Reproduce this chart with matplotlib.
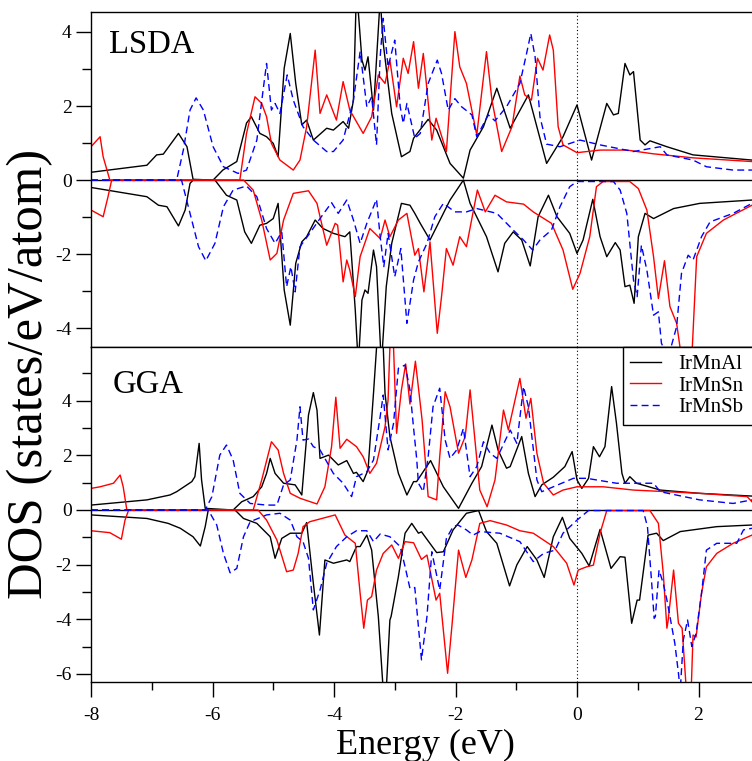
import matplotlib
matplotlib.use("Agg")
import matplotlib.pyplot as plt
from matplotlib.ticker import MultipleLocator

plt.rcParams["font.family"] = ["Liberation Serif", "DejaVu Serif"]
plt.rcParams["axes.unicode_minus"] = False

# (energy eV, DOS states/eV/atom) pairs, spin up > 0, spin down < 0

# ---- LSDA ----
lsda_al_up = [(-8.0, 0.21), (-7.08, 0.40), (-6.92, 0.68), (-6.81, 0.70), (-6.56, 1.26),
              (-6.42, 0.90), (-6.32, 0.02), (-5.99, 0.0), (-5.83, 0.27), (-5.6, 0.5),
              (-5.44, 1.54), (-5.36, 1.71), (-5.22, 1.26), (-5.11, 1.17), (-5.0, 0.99),
              (-4.92, 0.63), (-4.82, 3.02), (-4.72, 3.96), (-4.63, 2.61), (-4.53, 1.49),
              (-4.45, 1.62), (-4.34, 1.08), (-4.12, 1.4), (-4.01, 1.35), (-3.85, 1.58),
              (-3.76, 1.4), (-3.68, 2.16), (-3.63, 5.2), (-3.54, 3.24), (-3.49, 2.97),
              (-3.44, 3.33), (-3.35, 1.89), (-3.24, 4.9), (-3.19, 3.7), (-3.05, 1.8),
              (-2.89, 0.63), (-2.75, 0.77), (-2.69, 1.13), (-2.45, 1.64), (-2.31, 1.35),
              (-2.09, 0.45), (-1.87, 0.05), (-1.76, 0.81), (-1.54, 1.44), (-1.32, 2.48),
              (-1.1, 1.4), (-0.8, 2.3), (-0.5, 0.45), (-0.23, 1.17), (0.0, 2.03),
              (0.24, 0.54), (0.49, 2.07), (0.6, 1.76), (0.68, 1.8), (0.79, 3.15),
              (0.87, 2.84), (0.93, 2.93), (1.04, 1.08), (1.12, 0.95), (1.2, 1.06),
              (1.48, 0.9), (1.91, 0.68), (2.88, 0.54)]
lsda_sn_up = [(-8.0, 0.9), (-7.85, 1.17), (-7.8, 0.63), (-7.69, 0.0), (-5.55, 0.0),
              (-5.44, 1.26), (-5.3, 2.25), (-5.19, 2.07), (-5.11, 1.71), (-5.03, 0.99),
              (-4.89, 0.54), (-4.67, 0.27), (-4.56, 0.54), (-4.45, 1.44), (-4.31, 3.51),
              (-4.23, 1.8), (-4.12, 2.3), (-3.96, 1.62), (-3.85, 2.66), (-3.74, 1.89),
              (-3.52, 1.26), (-3.38, 1.71), (-3.27, 2.84), (-3.16, 2.61), (-3.08, 3.24),
              (-2.97, 1.98), (-2.86, 3.29), (-2.78, 2.88), (-2.69, 3.74), (-2.61, 2.48),
              (-2.53, 3.42), (-2.48, 2.61), (-2.39, 1.08), (-2.32, 1.67), (-2.15, 0.77),
              (-2.01, 4.01), (-1.93, 3.06), (-1.82, 2.61), (-1.65, 1.22), (-1.49, 3.47),
              (-1.4, 2.16), (-1.24, 0.77), (-1.07, 1.44), (-0.94, 2.81), (-0.86, 2.3),
              (-0.75, 2.16), (-0.65, 3.29), (-0.56, 2.97), (-0.45, 3.92), (-0.39, 3.51),
              (-0.31, 1.44), (-0.23, 0.95), (0.0, 0.74), (0.38, 0.81), (0.82, 0.81),
              (1.25, 0.71), (1.91, 0.6), (2.88, 0.5)]
lsda_sb_up = [(-8.0, 0.0), (-6.59, 0.0), (-6.48, 0.81), (-6.37, 1.89), (-6.27, 2.22),
              (-6.15, 1.89), (-5.99, 0.9), (-5.82, 0.36), (-5.58, 0.18), (-5.44, 0.27),
              (-5.27, 1.08), (-5.16, 2.52), (-5.11, 3.15), (-5.03, 1.89), (-4.97, 2.07),
              (-4.89, 1.8), (-4.77, 2.84), (-4.67, 2.16), (-4.51, 1.44), (-4.34, 1.08),
              (-4.12, 0.77), (-4.01, 0.77), (-3.85, 1.08), (-3.68, 2.16), (-3.57, 3.47),
              (-3.46, 1.98), (-3.38, 2.25), (-3.3, 0.95), (-3.24, 3.33), (-3.19, 4.37),
              (-3.11, 3.06), (-3.0, 3.78), (-2.91, 1.98), (-2.86, 1.53), (-2.8, 2.07),
              (-2.67, 1.13), (-2.58, 1.26), (-2.45, 2.61), (-2.3, 3.24), (-2.23, 2.88),
              (-2.12, 1.89), (-2.01, 2.2), (-1.9, 1.98), (-1.73, 1.76), (-1.65, 1.17),
              (-1.46, 1.76), (-1.35, 1.6), (-1.16, 1.98), (-0.94, 2.61), (-0.83, 3.42),
              (-0.76, 3.96), (-0.69, 3.33), (-0.61, 1.71), (-0.5, 0.97), (-0.28, 0.9),
              (0.05, 1.08), (0.38, 0.95), (0.93, 0.77), (1.37, 0.9), (1.48, 0.68),
              (1.91, 0.54), (2.13, 0.36), (2.57, 0.27), (2.88, 0.27)]
lsda_al_dn = [(-8.0, -0.2), (-7.08, -0.45), (-6.89, -0.68), (-6.75, -0.72), (-6.56, -1.24),
              (-6.45, -0.81), (-6.37, -0.09), (-6.32, 0.0), (-5.96, 0.0), (-5.77, -0.41),
              (-5.6, -0.54), (-5.47, -1.4), (-5.36, -1.71), (-5.22, -1.22), (-5.11, -1.17),
              (-5.0, -1.04), (-4.92, -0.63), (-4.82, -2.97), (-4.72, -3.92), (-4.63, -2.25),
              (-4.53, -1.67), (-4.45, -1.53), (-4.31, -1.08), (-4.18, -1.31), (-4.01, -1.44),
              (-3.82, -1.53), (-3.74, -1.4), (-3.65, -3.51), (-3.6, -5.0), (-3.54, -3.24),
              (-3.49, -2.97), (-3.44, -3.06), (-3.35, -1.89), (-3.3, -2.34), (-3.22, -5.0),
              (-3.14, -2.88), (-3.05, -1.71), (-2.89, -0.63), (-2.75, -0.68), (-2.67, -0.9),
              (-2.58, -1.17), (-2.42, -1.62), (-2.31, -1.26), (-2.09, -0.54), (-1.87, 0.0),
              (-1.76, -0.63), (-1.49, -1.53), (-1.3, -2.48), (-1.19, -1.71), (-1.05, -1.4),
              (-0.91, -1.62), (-0.77, -2.32), (-0.64, -0.99), (-0.47, -0.41), (-0.33, -0.99),
              (-0.12, -1.44), (0.0, -1.98), (0.1, -1.62), (0.26, -0.52), (0.38, -1.53),
              (0.49, -2.07), (0.63, -1.69), (0.71, -1.89), (0.79, -2.88), (0.87, -2.84),
              (0.94, -3.33), (1.01, -1.53), (1.12, -0.9), (1.26, -1.04), (1.59, -0.77),
              (2.02, -0.63), (2.88, -0.54)]
lsda_sn_dn = [(-8.0, -0.81), (-7.8, -0.99), (-7.72, -0.45), (-7.66, 0.0), (-5.49, 0.0),
              (-5.33, -0.27), (-5.19, -1.08), (-5.05, -2.16), (-4.94, -1.98), (-4.83, -1.08),
              (-4.67, -0.36), (-4.42, -0.29), (-4.28, -0.63), (-4.23, -0.99), (-4.12, -1.76),
              (-3.98, -1.17), (-3.94, -1.22), (-3.85, -2.75), (-3.79, -2.16), (-3.74, -2.43),
              (-3.65, -3.15), (-3.57, -2.07), (-3.41, -1.31), (-3.24, -1.58), (-3.16, -1.08),
              (-3.08, -1.53), (-2.94, -1.08), (-2.8, -0.9), (-2.67, -2.03), (-2.61, -1.85),
              (-2.52, -3.02), (-2.42, -1.67), (-2.3, -4.14), (-2.23, -3.15), (-2.15, -1.85),
              (-2.04, -2.3), (-1.93, -1.53), (-1.82, -1.8), (-1.64, -0.27), (-1.51, -0.86),
              (-1.35, -0.41), (-1.16, -0.59), (-0.88, -0.65), (-0.72, -0.86), (-0.42, -1.17),
              (-0.23, -1.89), (-0.07, -2.95), (0.05, -2.52), (0.21, -1.53), (0.32, -0.18),
              (0.43, -0.04), (0.87, -0.04), (1.01, -0.23), (1.15, -0.81), (1.26, -2.07),
              (1.34, -3.2), (1.44, -2.18), (1.53, -3.42), (1.64, -3.87), (1.72, -4.8),
              (1.8, -5.0), (1.89, -4.8), (1.97, -2.07), (2.13, -1.44), (2.41, -1.08),
              (2.88, -0.68)]
lsda_sb_dn = [(-8.0, 0.0), (-6.51, 0.0), (-6.37, -0.9), (-6.23, -1.8), (-6.11, -2.18),
              (-5.96, -1.71), (-5.82, -0.72), (-5.66, -0.27), (-5.44, -0.16), (-5.27, -0.45),
              (-5.11, -1.31), (-4.97, -1.71), (-4.86, -1.4), (-4.78, -2.88), (-4.71, -2.34),
              (-4.64, -3.02), (-4.56, -1.8), (-4.4, -1.44), (-4.23, -1.04), (-4.04, -0.61),
              (-3.93, -0.9), (-3.79, -0.54), (-3.68, -1.08), (-3.57, -1.71), (-3.46, -1.17),
              (-3.3, -0.52), (-3.24, -1.53), (-3.18, -2.34), (-3.11, -1.44), (-3.0, -2.61),
              (-2.9, -1.85), (-2.8, -3.87), (-2.69, -2.7), (-2.61, -2.21), (-2.47, -1.71),
              (-2.34, -0.99), (-2.2, -0.63), (-2.01, -0.86), (-1.82, -0.86), (-1.65, -0.77),
              (-1.32, -0.9), (-1.05, -1.35), (-0.88, -1.62), (-0.73, -1.89), (-0.61, -1.62),
              (-0.42, -1.35), (-0.28, -0.72), (-0.12, -0.18), (0.0, -0.04), (0.6, -0.04),
              (0.71, -0.27), (0.82, -0.9), (0.93, -2.7), (0.99, -3.15), (1.06, -1.76),
              (1.15, -2.43), (1.26, -3.65), (1.34, -3.56), (1.39, -4.41), (1.5, -4.8),
              (1.64, -3.96), (1.72, -2.52), (1.83, -2.03), (1.91, -2.16), (2.05, -1.53),
              (2.19, -1.13), (2.57, -0.9), (2.88, -0.63)]

# ---- GGA ----
gga_al_up = [(-8.0, 0.18), (-7.08, 0.37), (-6.7, 0.55), (-6.59, 0.67), (-6.34, 1.04),
             (-6.29, 1.22), (-6.22, 2.44), (-6.18, 1.1), (-6.12, 0.06), (-5.66, 0.0),
             (-5.52, 0.3), (-5.33, 0.49), (-5.19, 0.85), (-5.11, 1.34), (-5.05, 1.89),
             (-4.97, 1.34), (-4.83, 0.98), (-4.64, 0.92), (-4.53, 0.55), (-4.42, 3.48),
             (-4.34, 4.3), (-4.28, 3.66), (-4.23, 1.89), (-4.09, 2.01), (-3.93, 1.65),
             (-3.79, 1.81), (-3.68, 1.34), (-3.63, 1.38), (-3.52, 1.04), (-3.44, 1.47),
             (-3.35, 4.27), (-3.28, 6.6), (-3.2, 6.6), (-3.16, 4.27), (-3.08, 2.69),
             (-2.94, 1.34), (-2.8, 0.55), (-2.69, 1.04), (-2.64, 1.04), (-2.41, 1.81),
             (-2.2, 0.85), (-1.95, 0.06), (-1.73, 0.98), (-1.57, 1.59), (-1.4, 3.11),
             (-1.3, 2.2), (-1.16, 1.53), (-1.1, 1.59), (-0.91, 2.69), (-0.8, 1.34),
             (-0.69, 0.49), (-0.58, 0.92), (-0.39, 1.2), (-0.2, 1.59), (-0.08, 2.14),
             (0.0, 1.1), (0.08, 0.79), (0.19, 1.16), (0.27, 2.32), (0.37, 1.95),
             (0.46, 2.32), (0.57, 4.52), (0.65, 3.17), (0.74, 1.34), (0.79, 0.98),
             (0.87, 1.22), (0.98, 0.98), (1.37, 0.73), (2.02, 0.61), (2.88, 0.51)]
gga_sn_up = [(-8.0, 0.79), (-7.85, 0.85), (-7.63, 0.98), (-7.52, 1.28), (-7.47, 0.85),
             (-7.41, 0.0), (-5.33, 0.0), (-5.19, 1.1), (-5.03, 2.5), (-4.92, 2.2),
             (-4.83, 1.34), (-4.72, 0.61), (-4.56, 0.43), (-4.28, 0.22), (-4.15, 0.85),
             (-4.04, 2.32), (-3.97, 4.13), (-3.9, 2.26), (-3.79, 2.59), (-3.63, 2.32),
             (-3.52, 1.95), (-3.41, 1.34), (-3.3, 1.71), (-3.16, 3.05), (-3.11, 4.03),
             (-3.07, 6.6), (-3.03, 6.6), (-2.97, 2.81), (-2.89, 4.4), (-2.82, 5.35),
             (-2.75, 3.88), (-2.66, 5.45), (-2.55, 3.3), (-2.45, 0.49), (-2.31, 0.37),
             (-2.26, 1.95), (-2.17, 4.33), (-2.09, 3.78), (-1.95, 2.08), (-1.84, 2.69),
             (-1.76, 4.4), (-1.68, 2.56), (-1.6, 0.73), (-1.48, 0.12), (-1.35, 1.1),
             (-1.21, 3.66), (-1.13, 2.93), (-1.02, 4.03), (-0.94, 4.82), (-0.84, 3.36),
             (-0.76, 4.09), (-0.66, 2.08), (-0.55, 0.98), (-0.39, 0.55), (-0.23, 0.73),
             (0.0, 0.85), (0.43, 0.85), (0.93, 0.73), (1.48, 0.67), (2.02, 0.61),
             (2.8, 0.49), (2.88, 0.3)]
gga_sb_up = [(-8.0, 0.0), (-6.12, 0.0), (-6.01, 0.49), (-5.88, 2.01), (-5.77, 2.38),
             (-5.66, 1.83), (-5.55, 0.61), (-5.38, 0.24), (-5.11, 0.18), (-4.94, 0.18),
             (-4.83, 0.92), (-4.72, 1.1), (-4.61, 2.56), (-4.56, 3.78), (-4.51, 2.56),
             (-4.42, 2.6), (-4.34, 2.32), (-4.23, 2.2), (-4.01, 1.34), (-3.85, 0.98),
             (-3.71, 0.49), (-3.63, 1.22), (-3.46, 1.4), (-3.35, 1.83), (-3.24, 3.42),
             (-3.19, 4.21), (-3.11, 2.2), (-3.02, 3.17), (-2.94, 5.19), (-2.83, 5.31),
             (-2.75, 4.4), (-2.69, 3.0), (-2.64, 1.9), (-2.61, 0.98), (-2.53, 0.67),
             (-2.45, 1.95), (-2.37, 3.78), (-2.26, 4.46), (-2.17, 2.56), (-2.09, 1.89),
             (-1.98, 2.2), (-1.87, 2.99), (-1.76, 1.22), (-1.65, 1.59), (-1.54, 2.5),
             (-1.43, 2.08), (-1.32, 1.89), (-1.1, 2.93), (-0.99, 2.44), (-0.88, 4.52),
             (-0.8, 3.78), (-0.66, 1.1), (-0.58, 0.67), (-0.39, 0.85), (-0.06, 1.16),
             (0.16, 1.16), (0.65, 0.98), (1.26, 0.98), (1.37, 0.67), (2.02, 0.37),
             (2.57, 0.24), (2.88, 0.37)]
gga_al_dn = [(-8.0, -0.18), (-7.08, -0.31), (-6.73, -0.49), (-6.53, -0.67), (-6.32, -0.98),
             (-6.2, -1.32), (-6.12, -0.61), (-6.07, 0.0), (-5.63, 0.0), (-5.49, -0.31),
             (-5.27, -0.49), (-5.05, -0.98), (-4.97, -1.77), (-4.86, -1.04), (-4.72, -0.85),
             (-4.53, -0.85), (-4.45, -0.46), (-4.34, -2.69), (-4.24, -4.58), (-4.15, -1.83),
             (-4.01, -1.95), (-3.79, -1.83), (-3.74, -1.89), (-3.63, -1.34), (-3.57, -1.34),
             (-3.46, -0.92), (-3.38, -1.47), (-3.27, -3.91), (-3.19, -6.6), (-3.14, -6.6),
             (-3.08, -4.03), (-3.06, -3.9), (-2.94, -2.44), (-2.83, -0.85), (-2.72, -0.49),
             (-2.61, -0.85), (-2.56, -0.8), (-2.31, -1.56), (-2.2, -1.53), (-2.04, -0.73),
             (-1.82, -0.12), (-1.62, -0.02), (-1.49, -0.79), (-1.32, -1.22), (-1.11, -2.78),
             (-0.99, -2.01), (-0.82, -1.34), (-0.66, -1.83), (-0.54, -2.47), (-0.39, -0.98),
             (-0.24, -0.27), (-0.12, -1.04), (0.08, -1.59), (0.2, -2.05), (0.38, -0.71),
             (0.56, -2.14), (0.71, -1.71), (0.79, -1.73), (0.9, -4.15), (0.99, -3.3),
             (1.03, -3.3), (1.17, -0.92), (1.31, -0.85), (1.42, -1.12), (1.7, -0.79),
             (2.3, -0.61), (2.88, -0.55)]
gga_sn_dn = [(-8.0, -0.76), (-7.69, -0.83), (-7.5, -1.07), (-7.44, -0.37), (-7.38, 0.0),
             (-5.25, 0.0), (-5.11, -0.37), (-4.94, -1.1), (-4.78, -2.26), (-4.67, -2.2),
             (-4.59, -1.59), (-4.51, -0.61), (-4.4, -0.43), (-3.98, -0.18), (-3.82, -0.92),
             (-3.65, -1.22), (-3.57, -3.05), (-3.51, -4.33), (-3.45, -3.3), (-3.38, -3.17),
             (-3.3, -2.2), (-3.19, -1.59), (-3.05, -1.28), (-2.94, -1.77), (-2.83, -1.16),
             (-2.69, -1.2), (-2.56, -1.81), (-2.47, -1.65), (-2.32, -3.3), (-2.26, -3.05),
             (-2.13, -5.98), (-2.06, -4.27), (-1.95, -1.47), (-1.83, -2.47), (-1.73, -1.83),
             (-1.6, -0.49), (-1.43, -0.39), (-1.16, -0.55), (-0.94, -0.76), (-0.72, -0.85),
             (-0.39, -1.34), (-0.17, -1.95), (-0.05, -2.75), (0.02, -2.2), (0.16, -2.08),
             (0.27, -2.02), (0.38, -0.85), (0.49, -0.02), (1.2, -0.02), (1.34, -0.49),
             (1.42, -2.32), (1.48, -4.33), (1.5, -4.05), (1.59, -2.2), (1.67, -4.15),
             (1.73, -4.33), (1.8, -6.6), (1.88, -6.6), (1.91, -4.58), (1.96, -4.65),
             (2.05, -3.05), (2.13, -2.08), (2.3, -1.59), (2.57, -1.22), (2.88, -0.92)]
gga_sb_dn = [(-8.0, 0.0), (-6.07, 0.0), (-5.93, -0.55), (-5.82, -1.59), (-5.71, -2.3),
             (-5.6, -2.14), (-5.49, -0.98), (-5.38, -0.43), (-5.11, -0.18), (-4.89, -0.12),
             (-4.72, -0.37), (-4.61, -0.98), (-4.51, -1.16), (-4.42, -1.77), (-4.34, -3.66),
             (-4.23, -2.93), (-4.12, -1.95), (-3.96, -1.34), (-3.79, -0.98), (-3.63, -0.76),
             (-3.46, -0.76), (-3.35, -1.16), (-3.24, -0.88), (-3.08, -0.98), (-2.91, -1.34),
             (-2.83, -2.08), (-2.75, -2.87), (-2.67, -2.84), (-2.56, -5.49), (-2.47, -3.91),
             (-2.39, -1.53), (-2.26, -2.93), (-2.15, -1.04), (-2.04, -0.61), (-1.96, -0.55),
             (-1.82, -0.73), (-1.71, -0.92), (-1.6, -0.79), (-1.27, -0.85), (-0.94, -1.16),
             (-0.72, -1.89), (-0.55, -1.59), (-0.36, -1.47), (-0.23, -0.85), (0.0, -0.37),
             (0.19, -0.02), (1.09, -0.02), (1.16, -0.61), (1.23, -2.69), (1.27, -3.97),
             (1.29, -3.9), (1.35, -2.2), (1.42, -2.69), (1.48, -3.3), (1.56, -4.27),
             (1.61, -4.88), (1.67, -5.98), (1.7, -6.6), (1.75, -4.76), (1.82, -4.03),
             (1.89, -5.0), (1.96, -4.52), (2.05, -3.05), (2.13, -1.47), (2.3, -1.22),
             (2.63, -1.22), (2.74, -0.73), (2.88, -0.67)]

compounds = ["IrMnAl", "IrMnSn", "IrMnSb"]
colors = ["black", "red", "blue"]
styles = ["-", "-", (0, (5, 3))]

W, H = 752, 761
fig = plt.figure(figsize=(W / 100, H / 100), dpi=100)
left = 91 / W
ax1 = fig.add_axes([left, 1 - 347 / H, 1 - left, 335 / H])
ax2 = fig.add_axes([left, 1 - 682 / H, 1 - left, 335 / H])


def draw_panel(ax, up, dn, ylim, name, name_pos):
    for k in range(3):
        for curve, lab in ((up[k], compounds[k]), (dn[k], None)):
            e = [p[0] for p in curve]
            d = [p[1] for p in curve]
            ax.plot(e, d, color=colors[k], ls=styles[k], lw=1.0, label=lab)
    ax.axhline(0, color="black", lw=1.0, zorder=1)
    ax.axvline(0, color="black", ls=(0, (1, 2.2)), lw=0.8, zorder=1)
    ax.set_xlim(-8, (W - 577) / 60.75)
    ax.set_ylim(*ylim)
    ax.yaxis.set_major_locator(MultipleLocator(2))
    ax.yaxis.set_minor_locator(MultipleLocator(1))
    ax.xaxis.set_major_locator(MultipleLocator(2))
    ax.xaxis.set_minor_locator(MultipleLocator(1))
    ax.tick_params(axis="y", which="major", length=11, width=1.0, labelsize=14, pad=3)
    ax.tick_params(axis="y", which="minor", length=6.5, width=1.0)
    ax.tick_params(axis="x", which="major", length=11, width=1.0, labelsize=14, pad=7)
    ax.tick_params(axis="x", which="minor", length=5.5, width=1.0)
    ax.spines["right"].set_visible(False)
    for s in ("left", "top", "bottom"):
        ax.spines[s].set_linewidth(1.0)
    ax.text(name_pos[0], name_pos[1], name, transform=ax.transAxes,
            fontsize=23.5, va="baseline", ha="left")


draw_panel(ax1, [lsda_al_up, lsda_sn_up, lsda_sb_up], [lsda_al_dn, lsda_sn_dn, lsda_sb_dn],
           (-4.51, 4.54), "LSDA", (0.027, 0.877))
draw_panel(ax2, [gga_al_up, gga_sn_up, gga_sb_up], [gga_al_dn, gga_sn_dn, gga_sb_dn],
           (-6.3, 5.97), "GGA", (0.033, 0.862))

ax1.tick_params(axis="x", which="both", bottom=False, labelbottom=False)

# legend box runs off the right edge, text left-aligned inside
leg = ax2.legend(loc="upper left", bbox_to_anchor=(0.8044, 0.0, 0.26, 1.0), mode="expand",
                 borderaxespad=0, fontsize=15, frameon=True, fancybox=False, framealpha=1,
                 edgecolor="black", handlelength=1.5, handletextpad=0.8,
                 labelspacing=0.1, borderpad=0.35)
leg.get_frame().set_linewidth(1.0)

fig.text(30 / W, 1 - 374 / H, "DOS (states/eV/atom)", rotation=90,
         fontsize=36.5, ha="center", va="center")
fig.text(425 / W, 1 - 754 / H, "Energy (eV)", fontsize=26, ha="center", va="baseline")

fig.savefig("out.png", dpi=100)
